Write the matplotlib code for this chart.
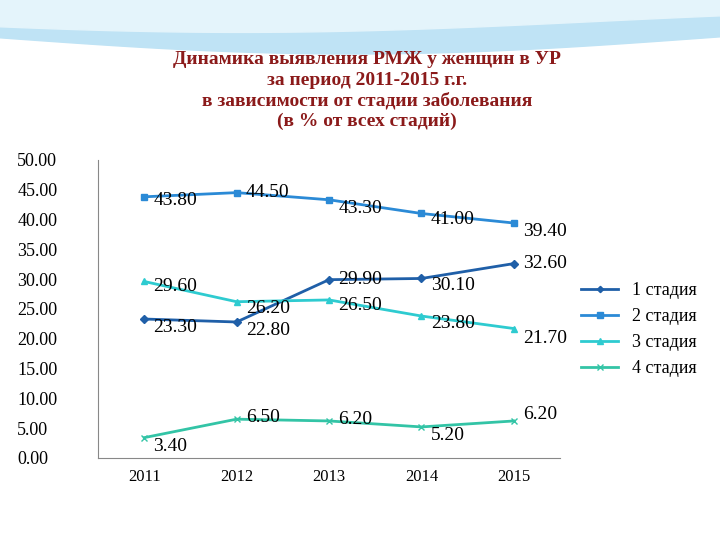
import matplotlib.pyplot as plt
import numpy as np

years = ['2011', '2012', '2013', '2014', '2015']
stage1 = [23.30, 22.80, 29.90, 30.10, 32.60]
stage2 = [43.80, 44.50, 43.30, 41.00, 39.40]
stage3 = [29.60, 26.20, 26.50, 23.80, 21.70]
stage4 = [3.40, 6.50, 6.20, 5.20, 6.20]
names = ['1 стадия', '2 стадия', '3 стадия', '4 стадия']

plt.rcParams['font.family'] = ['Liberation Serif', 'DejaVu Serif']

fig = plt.figure(figsize=(7.2, 5.4), dpi=100)

# decorative wave at top of slide
bg = fig.add_axes([0, 0, 1, 1], zorder=-1)
bg.set_xlim(0, 1); bg.set_ylim(0, 1); bg.axis('off')
xs = np.linspace(0, 1, 200)
bg.fill_between(xs, 1, 0.93 - 0.03 * np.sin(xs * 3.2), color='#bfe3f5')
bg.fill_between(xs, 1, 0.96 - 0.02 * np.sin(xs * 3.2 + 0.5), color='#e4f4fb')

ax = fig.add_axes([0.136, 0.152, 0.642, 0.552])
x = np.arange(len(years))
ax.plot(x, stage1, color='#1f5fa8', marker='D', ms=4, lw=2, label=names[0])
ax.plot(x, stage2, color='#2b8ad6', marker='s', ms=5, lw=2, label=names[1])
ax.plot(x, stage3, color='#2ecbd0', marker='^', ms=5, lw=2, label=names[2])
ax.plot(x, stage4, color='#33c4a6', marker='x', ms=5, lw=2, label=names[3])

fs = 14
offs1 = [(0.1, -1.5), (0.1, -1.5), (0.1, 0.0), (0.1, -1.2), (0.1, 0)]
offs2 = [(0.1, -0.6), (0.1, 0.0), (0.1, -1.5), (0.1, -1.0), (0.1, -1.5)]
offs3 = [(0.1, -0.8), (0.1, -1.2), (0.1, -1.0), (0.1, -1.3), (0.1, -1.7)]
offs4 = [(0.1, -1.5), (0.1, 0.2), (0.1, 0.2), (0.1, -1.5), (0.1, 1.0)]
for vals, offs in [(stage1, offs1), (stage2, offs2), (stage3, offs3), (stage4, offs4)]:
    for i, v in enumerate(vals):
        ax.text(i + offs[i][0], v + offs[i][1], f'{v:.2f}', fontsize=fs, va='center', ha='left')

ax.set_xlim(-0.5, 4.5)
ax.set_ylim(0, 50)
ax.set_yticks(np.arange(0, 51, 5))
ax.set_yticklabels([f'{v:.2f}' for v in np.arange(0, 51, 5)], fontsize=13, ha='left')
ax.set_xticks(x)
ax.set_xticklabels(years, fontsize=12)
ax.tick_params(axis='y', length=0, pad=58)
ax.tick_params(axis='x', length=0, pad=8)
for s in ['top', 'right']:
    ax.spines[s].set_visible(False)
for s in ['left', 'bottom']:
    ax.spines[s].set_color('#888888')

fig.legend(loc='center left', bbox_to_anchor=(0.785, 0.39), frameon=False,
           fontsize=13, labelspacing=0.5, handlelength=2.0, markerscale=0.8)

fig.text(0.51, 0.905, 'Динамика выявления РМЖ у женщин в УР\nза период 2011-2015 г.г.\n'
         'в зависимости от стадии заболевания\n(в % от всех стадий)',
         ha='center', va='top', fontsize=14, fontweight='bold', color='#8b1a1a',
         linespacing=1.25)

fig.savefig('out.png')
